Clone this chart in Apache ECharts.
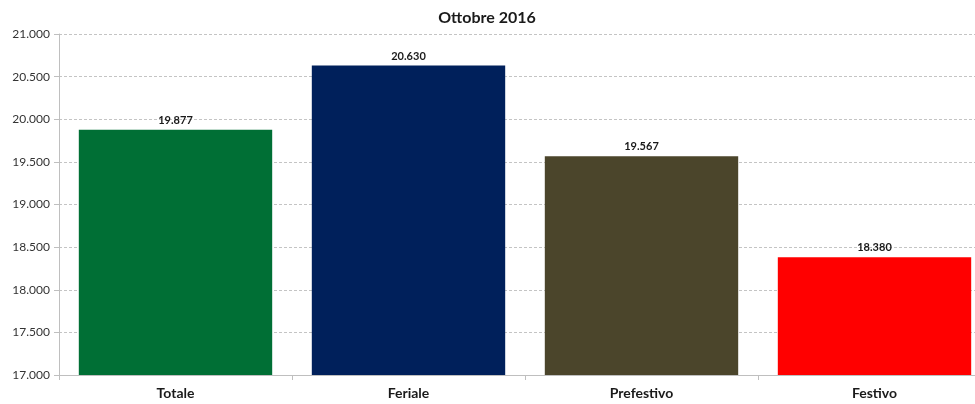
<!DOCTYPE html>
<html><head><meta charset="utf-8">
<script src="https://cdn.jsdelivr.net/npm/echarts@6/dist/echarts.min.js"></script>
<style>html,body{margin:0;padding:0;background:#fff;overflow:hidden;width:975px;height:404px}#c{width:991px;height:404px}</style>
</head><body><div id="c"></div>
<script>
const categories = ['Totale','Feriale','Prefestivo','Festivo'];
const values = [19877, 20630, 19567, 18380];
const colors = ['#006F35','#00205B','#4B452B','#FF0000'];
const titleText = 'Ottobre 2016';
const fmt3 = v => { const s = String(Math.round(v)); return s.length>3 ? s.slice(0,-3)+'.'+s.slice(-3) : s; };
const chart = echarts.init(document.getElementById('c'));
chart.setOption({
  animation:false,
  textStyle:{fontFamily:'Lato'},
  title:{text:titleText,left:482,top:5,textAlign:'center',textStyle:{fontSize:16,fontWeight:'bold',color:'#1a1a1a',fontFamily:'Lato'}},
  grid:{left:59,top:34,right:0,bottom:29,containLabel:false},
  xAxis:{type:'category',data:categories,
    axisLine:{lineStyle:{color:'#bfbfbf'}},
    axisTick:{show:true,length:5,lineStyle:{color:'#bfbfbf'}},
    axisLabel:{fontSize:14,fontWeight:'bold',color:'#1a1a1a',margin:11,fontFamily:'Lato'}},
  yAxis:{type:'value',min:17000,max:21000,interval:500,
    axisLine:{show:true,lineStyle:{color:'#bfbfbf'}},
    axisTick:{show:true,length:5,lineStyle:{color:'#bfbfbf'}},
    splitLine:{lineStyle:{type:[3,2],color:'#c4c4c4'}},
    axisLabel:{fontSize:12,color:'#333',margin:9,formatter:v=>fmt3(v),fontFamily:'Lato'}},
  series:[{type:'bar',data:values.map((v,i)=>({value:v,itemStyle:{color:colors[i]}})),
    barCategoryGap:'17%',
    label:{show:true,position:'top',fontSize:11,fontWeight:'bold',color:'#1a1a1a',distance:4,formatter:p=>fmt3(p.value),fontFamily:'Lato'}}]
});
</script></body></html>
